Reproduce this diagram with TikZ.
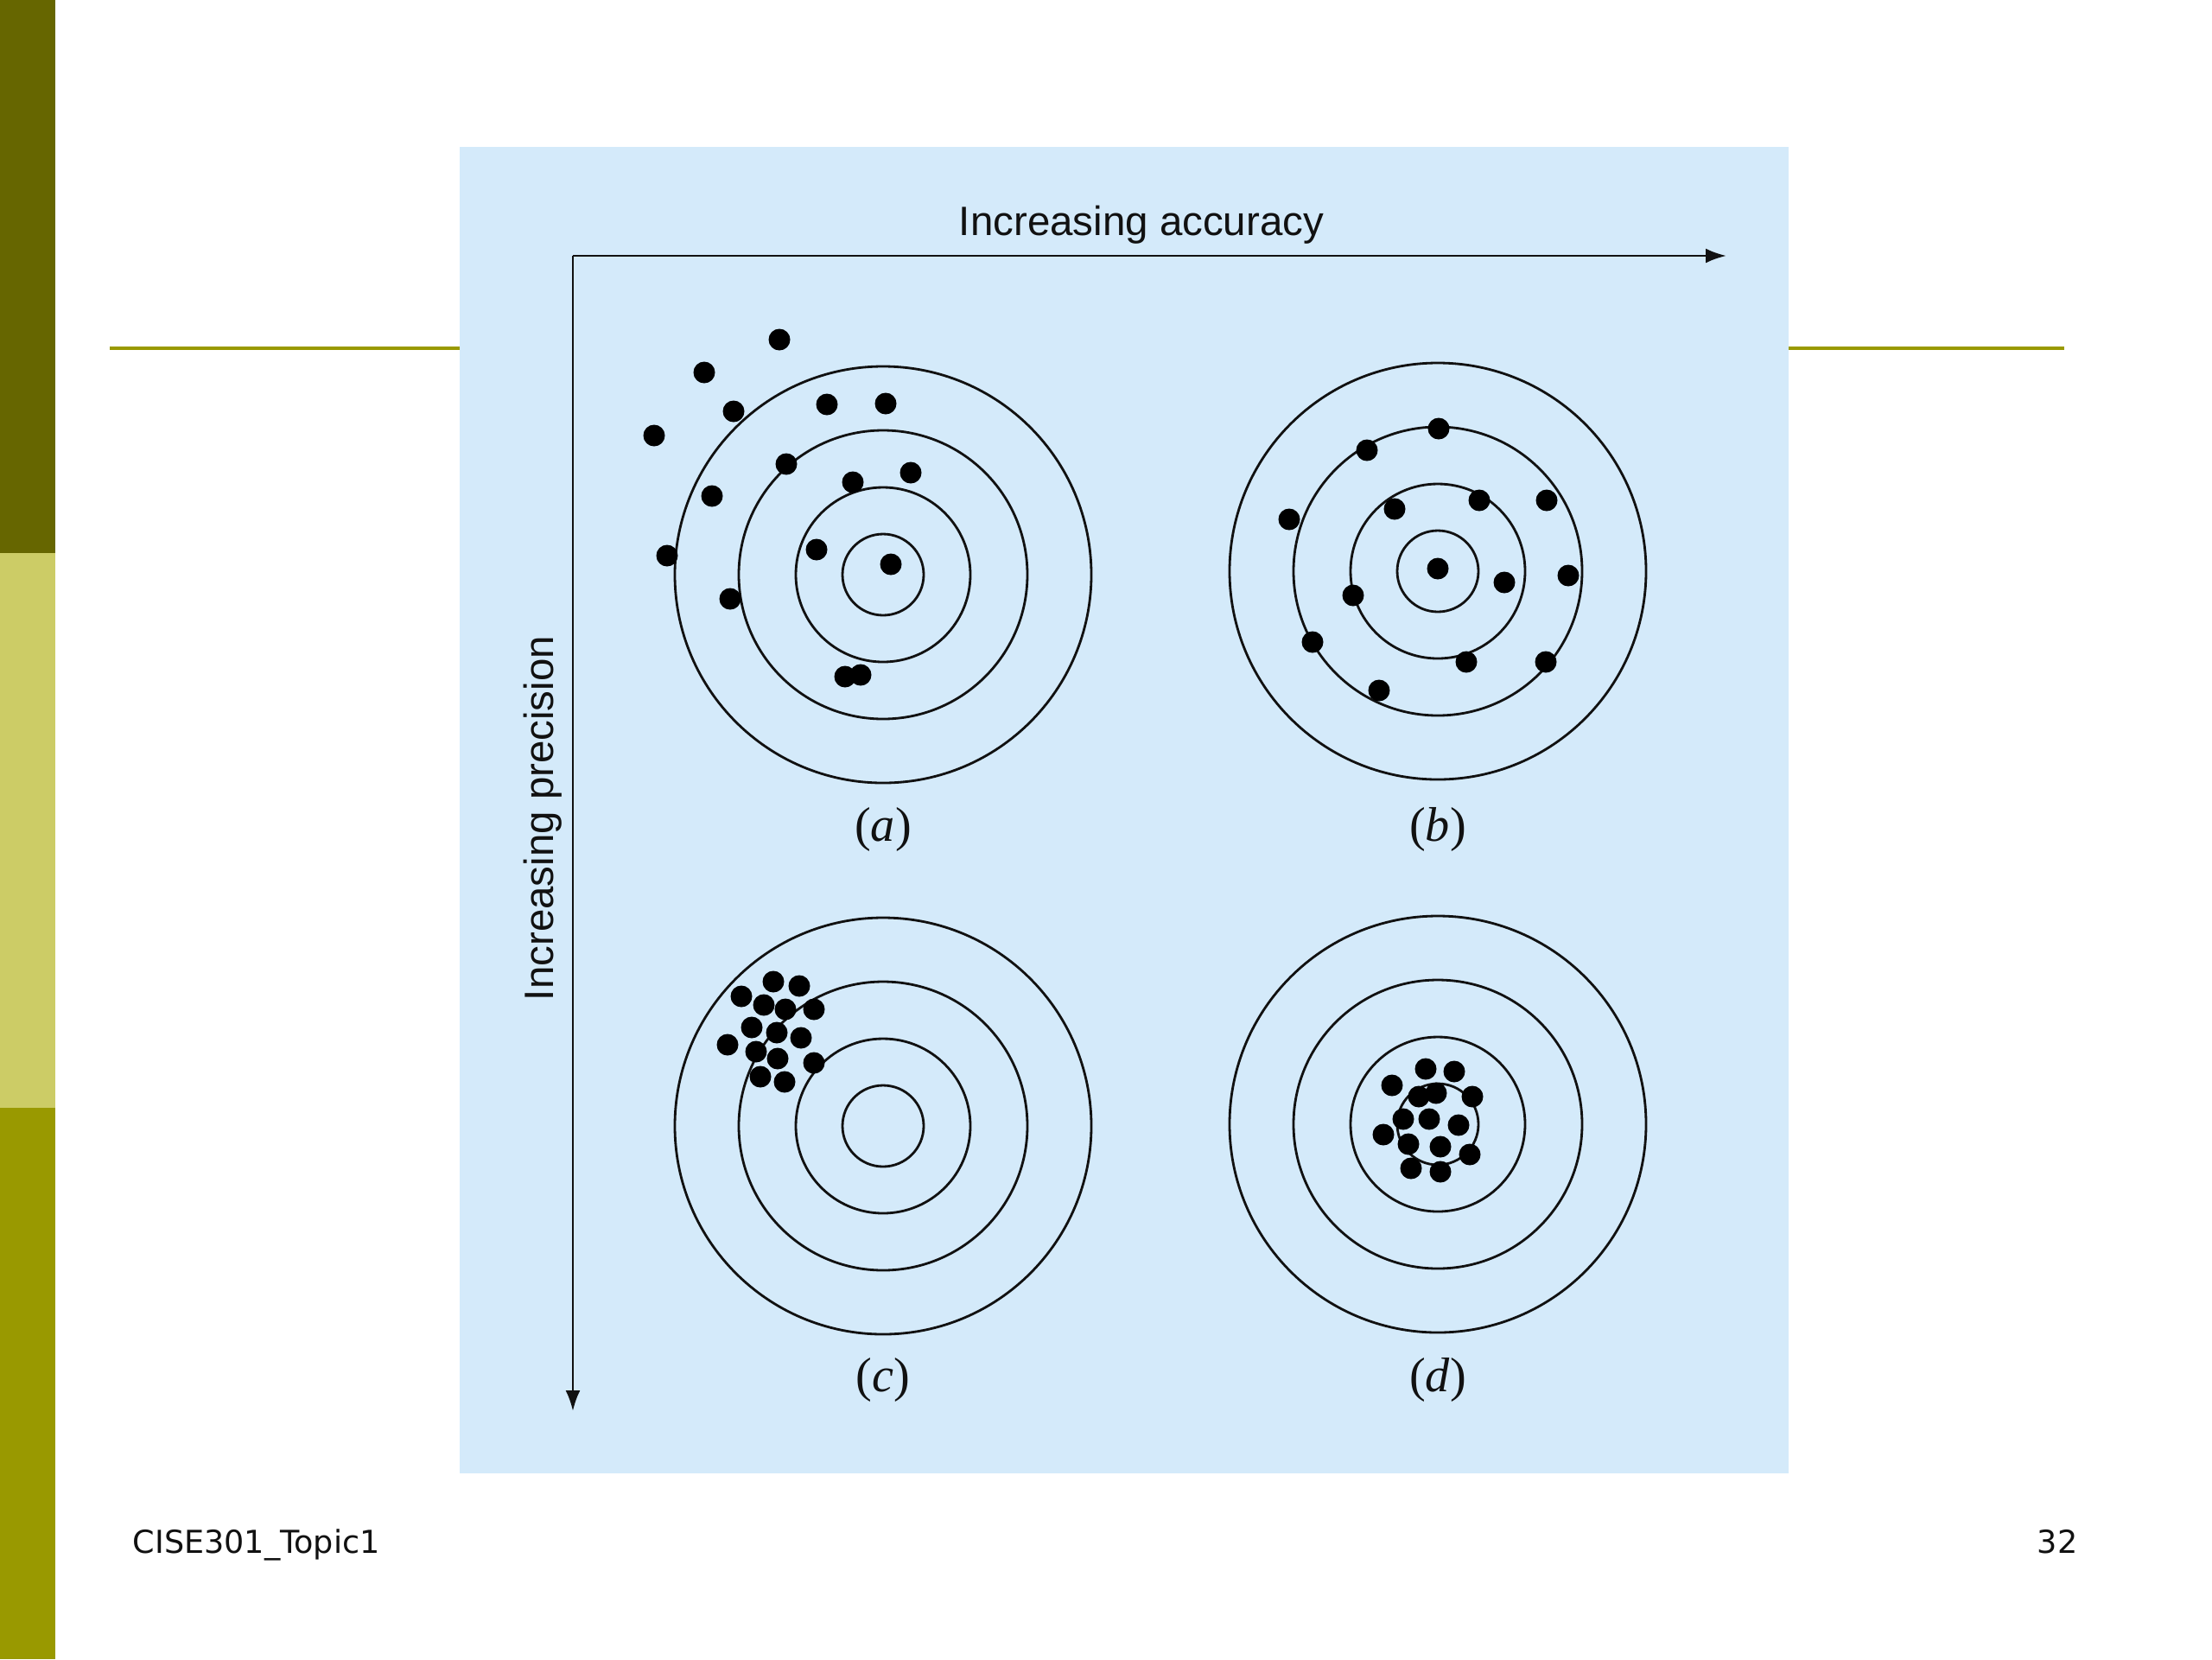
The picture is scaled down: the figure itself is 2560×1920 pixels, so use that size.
\documentclass[tikz,border=0pt]{standalone}
\usepackage{fontspec}
\setmainfont{Liberation Serif}
\newfontfamily\helv{Liberation Sans}
\newfontfamily\slidefont{DejaVu Sans}
\usetikzlibrary{arrows.meta}
\definecolor{olivedark}{HTML}{666600}
\definecolor{olivelight}{HTML}{CCCC66}
\definecolor{olivemid}{HTML}{999900}
\definecolor{panelblue}{HTML}{D4EAFA}
\definecolor{ink}{HTML}{111111}
\tikzset{
  ring/.style={draw=ink,line width=0.8pt},
  shot/.style={fill=black},
  axis/.style={draw=ink,line width=0.8pt,-{Latex[length=2.4mm,width=1.7mm]}},
  axislabel/.style={font=\helv\fontsize{13.5}{14}\selectfont,text=ink,inner sep=0pt,anchor=base},
  caption/.style={font=\fontsize{16}{16}\selectfont,text=ink,inner sep=0pt},
  footer/.style={font=\slidefont\fontsize{10.4}{11}\selectfont,text=ink,inner sep=0pt},
}
\newcommand{\rings}[1]{%
  \foreach \r in {241,167,101,47} \draw[ring] (#1) circle[radius=\r];
}

\begin{document}
\begin{tikzpicture}[x=0.01cm,y=-0.01cm]
  \useasboundingbox (0,0) rectangle (2560,1920);
  \fill[white] (0,0) rectangle (2560,1920);
  % slide frame
  \fill[olivedark] (0,0) rectangle (64,640);
  \fill[olivelight] (0,640) rectangle (64,1282);
  \fill[olivemid] (0,1282) rectangle (64,1920);
  \draw[olivemid,line width=1.4pt] (127,403) -- (2389,403);
  \fill[panelblue] (532,170) rectangle (2070,1705);
  % axes
  \coordinate (origin) at (663,296);
  \coordinate (accend) at (1998,296);
  \coordinate (precend) at (663,1633);
  \draw[axis] (origin) -- (accend);
  \draw[axis] (origin) -- (precend);
  \node[axislabel] (accuracy) at (1321,272) {Increasing accuracy};
  \node[axislabel,rotate=90] (precision) at (640,947) {Increasing precision};
  % targets
  \coordinate (ta) at (1022,665);
  \coordinate (tb) at (1664,661);
  \coordinate (tc) at (1022,1303);
  \coordinate (td) at (1664,1301);
  \rings{ta}
  \rings{tb}
  \rings{tc}
  \rings{td}
  % (a) inaccurate and imprecise
  \foreach \x/\y in {902/393,815/431,849/476,757/504,957/468,1025/467,910/537,1054/547,
      987/558,824/574,772/643,945/636,1031/653,845/693,978/783,996/781}
    \fill[shot] (\x,\y) circle[radius=12.5];
  % (b) accurate and imprecise
  \foreach \x/\y in {1665/496,1582/521,1492/601,1614/589,1712/579,1790/579,1664/658,1741/674,
      1815/666,1566/689,1519/743,1697/766,1789/766,1596/799}
    \fill[shot] (\x,\y) circle[radius=12.5];
  % (c) inaccurate and precise
  \foreach \x/\y in {895/1136,925/1141,858/1153,884/1163,909/1168,942/1168,870/1189,899/1195,
      927/1201,842/1209,875/1217,900/1225,942/1230,880/1246,908/1252}
    \fill[shot] (\x,\y) circle[radius=12.5];
  % (d) accurate and precise
  \foreach \x/\y in {1650/1237,1683/1240,1611/1256,1642/1269,1662/1265,1704/1269,1624/1295,1654/1295,
      1688/1302,1601/1313,1630/1324,1667/1327,1701/1336,1633/1352,1667/1356}
    \fill[shot] (\x,\y) circle[radius=12.5];
  \node[caption] (capa) at (1022,960) {(\textit{a})};
  \node[caption] (capb) at (1664,960) {(\textit{b})};
  \node[caption] (capc) at (1022,1597) {(\textit{c})};
  \node[caption] (capd) at (1664,1597) {(\textit{d})};
  % footer
  \node[footer,anchor=base west] (course) at (153,1797) {CISE301\_Topic1};
  \node[footer,anchor=base east] (pagenum) at (2405,1797) {32};
\end{tikzpicture}
\end{document}
